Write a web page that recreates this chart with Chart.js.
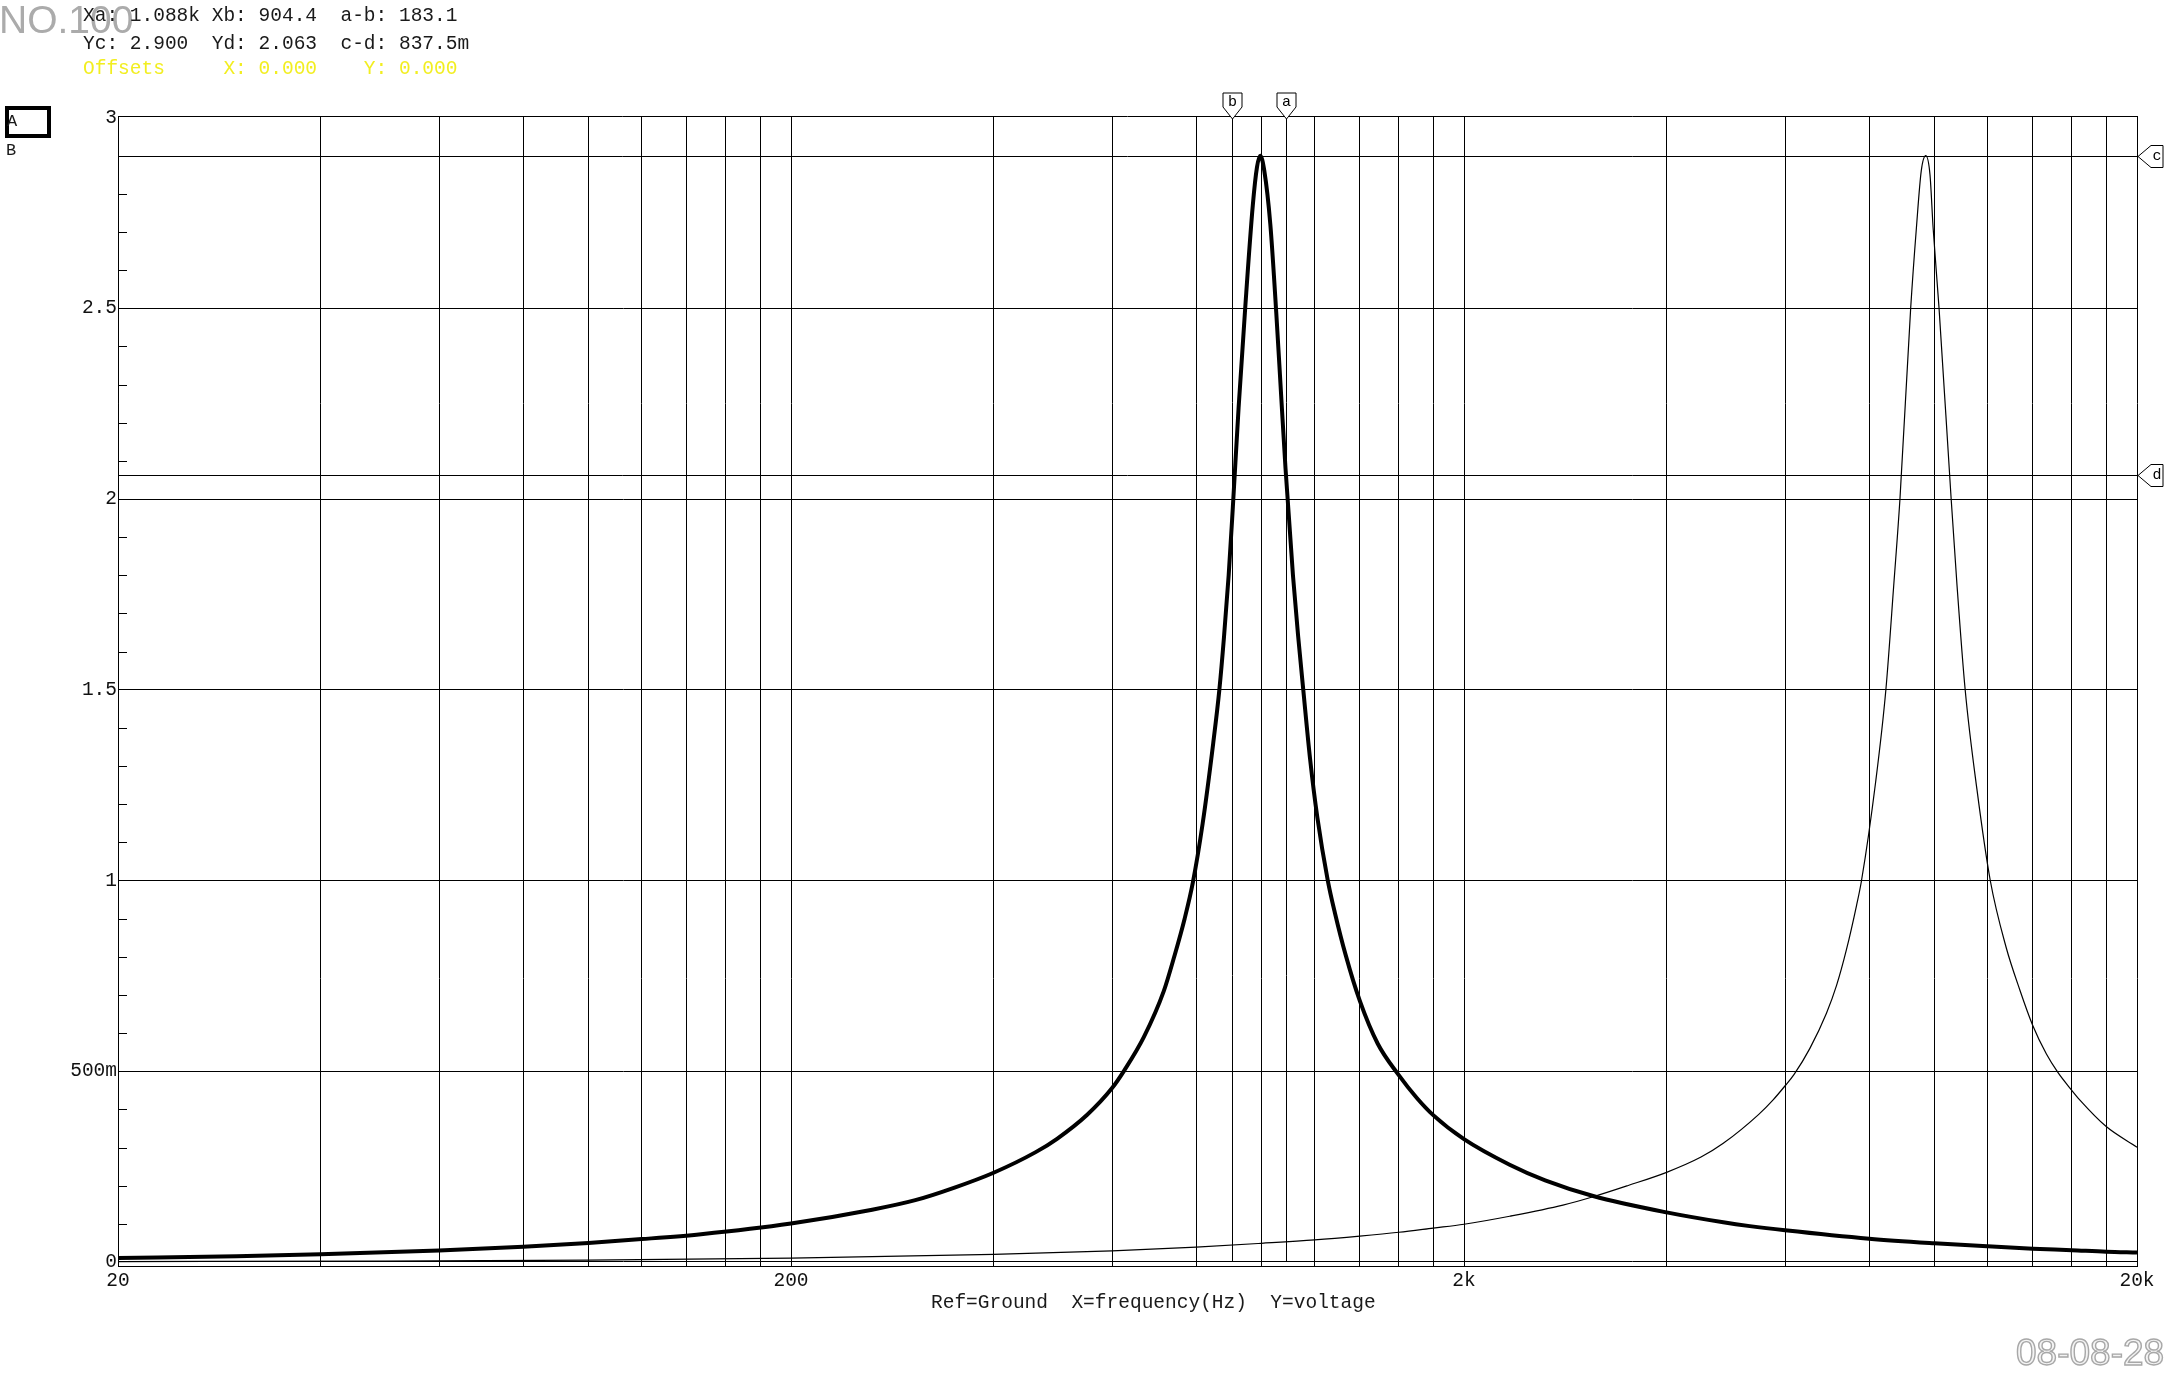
<!DOCTYPE html>
<html><head><meta charset="utf-8">
<script src="https://cdn.jsdelivr.net/npm/chart.js@4.4.1/dist/chart.umd.min.js"></script>
<style>
html,body{margin:0;padding:0;background:#fff;width:2165px;height:1375px;overflow:hidden;}
#wrap{position:absolute;left:0;top:0;width:2165px;height:1375px;}
.t{position:absolute;white-space:pre;font-family:'Liberation Mono','Courier New',monospace;font-size:19.5px;line-height:19.5px;color:#1a1a1a;}
.wm{position:absolute;white-space:pre;font-family:'Liberation Sans',Arial,sans-serif;line-height:1;}
</style></head><body>
<div id="wrap"><canvas id="c" width="2165" height="1375"></canvas></div>
<div class="wm" style="left:-1px;top:0px;font-size:39px;color:#ababab;">NO.100</div>
<div class="t" style="left:83px;top:6.5px">Xa: 1.088k Xb: 904.4  a-b: 183.1</div>
<div class="t" style="left:83px;top:34.5px">Yc: 2.900  Yd: 2.063  c-d: 837.5m</div>
<div class="t" style="left:83px;top:59.5px;color:#f2ee20">Offsets     X: 0.000    Y: 0.000</div>
<div style="position:absolute;left:5px;top:106px;width:46px;height:32px;border:4px solid #000;box-sizing:border-box;"></div>
<div class="t" style="left:7px;top:113px;font-size:17px;line-height:17px">A</div>
<div class="t" style="left:6px;top:142px;font-size:17px;line-height:17px">B</div>
<div class="t" style="left:931px;top:1293.5px">Ref=Ground  X=frequency(Hz)  Y=voltage</div>
<div class="wm" style="left:2016px;top:1334px;font-size:37px;color:#f4f4f4;-webkit-text-stroke:1.4px #a8a8a8;">08-08-28</div>
<script>
// ---- data ----
const freqA = [20,30,40,60,80,100,120,147,200,264,306,350,400,462,497,551,600,626,669,716,742,769,791,818,848,866,880,894,907,925,946,971,985,996,1010,1031,1052,1070,1086,1114,1134,1154,1181,1211,1255,1286,1334,1400,1489,1600,1702,1800,2000,2338,2640,3111,4000,4856,5317,6000,8000,10000,12000,14000,16000,18000,20000];
const voltA = [0.0105,0.015,0.020,0.030,0.040,0.050,0.060,0.073,0.101,0.137,0.162,0.195,0.234,0.288,0.323,0.386,0.456,0.503,0.590,0.710,0.800,0.900,0.995,1.150,1.360,1.500,1.640,1.800,1.980,2.240,2.500,2.770,2.870,2.900,2.860,2.720,2.490,2.270,2.080,1.800,1.640,1.500,1.320,1.165,1.000,0.915,0.805,0.685,0.572,0.490,0.430,0.385,0.322,0.255,0.214,0.173,0.130,0.104,0.094,0.083,0.061,0.049,0.041,0.035,0.031,0.027,0.025];
const freqB = [20,50,100,200,400,600,800,1000,1200,1400,1600,1800,2000,2338,2806,3111,3500,4000,4500,4856,5483,5759,6000,6188,6531,6912,7155,7404,7662,7793,8177,8470,8707,8888,9220,9403,9560,9708,9850,9956,10160,10590,10797,11110,11564,12106,12780,13395,14000,14670,15256,16000,16440,18000,20000];
const voltB = [0.001,0.0025,0.005,0.010,0.020,0.029,0.039,0.049,0.058,0.068,0.078,0.089,0.099,0.120,0.149,0.171,0.200,0.235,0.275,0.311,0.387,0.425,0.462,0.492,0.560,0.652,0.725,0.820,0.935,1.000,1.257,1.500,1.781,2.000,2.500,2.711,2.860,2.900,2.850,2.711,2.500,2.000,1.781,1.500,1.240,1.000,0.825,0.713,0.620,0.545,0.497,0.450,0.425,0.355,0.301];
const xGridValues = [20,40,60,80,100,120,140,160,180,200,400,600,800,1000,1200,1400,1600,1800,2000,4000,6000,8000,10000,12000,14000,16000,18000,20000];
const xLabelValues = [20,200,2000,20000];
const xLabelTexts = ['20','200','2k','20k'];
const yTickValues = [0,0.5,1,1.5,2,2.5,3];
const yTickLabels = ['0','500m','1','1.5','2','2.5','3'];
const yMinorTicks = [0.1,0.2,0.3,0.4,0.6,0.7,0.8,0.9,1.1,1.2,1.3,1.4,1.6,1.7,1.8,1.9,2.1,2.2,2.3,2.4,2.6,2.7,2.8,2.9];
const cursorXValues = [1088,904.4];
const cursorXNames = ['a','b'];
const cursorYValues = [2.9,2.063];
const cursorYNames = ['c','d'];

const toPts = (xs,ys)=>xs.map((x,i)=>({x:x,y:ys[i]}));
const MONO = "'Liberation Mono','Courier New',monospace";

const overlay = {
  id:'overlay',
  beforeDatasetsDraw(chart){
    const {ctx, chartArea:a, scales:{x,y}} = chart;
    ctx.save();
    ctx.strokeStyle='#000'; ctx.lineWidth=1;
    // top frame line
    const ty=Math.round(a.top)+0.5; ctx.beginPath(); ctx.moveTo(a.left,ty); ctx.lineTo(a.right,ty); ctx.stroke();
    yMinorTicks.forEach(v=>{const py=Math.round(y.getPixelForValue(v))+0.5; ctx.beginPath(); ctx.moveTo(a.left,py); ctx.lineTo(a.left+9,py); ctx.stroke();});
    const y0 = y.getPixelForValue(0);
    cursorXValues.forEach(v=>{const px=Math.round(x.getPixelForValue(v))+0.5; ctx.beginPath(); ctx.moveTo(px,a.top); ctx.lineTo(px,y0); ctx.stroke();});
    cursorYValues.forEach(v=>{const py=Math.round(y.getPixelForValue(v))+0.5; ctx.beginPath(); ctx.moveTo(a.left,py); ctx.lineTo(a.right,py); ctx.stroke();});
    ctx.restore();
  },
  afterDraw(chart){
    const {ctx, chartArea:a, scales:{x,y}} = chart;
    ctx.save();
    ctx.strokeStyle='#000'; ctx.lineWidth=1;
    ctx.font = "15px "+MONO; ctx.textAlign='center'; ctx.textBaseline='middle';
    cursorXValues.forEach((v,i)=>{
      const px=Math.round(x.getPixelForValue(v))+0.5, t=a.top;
      ctx.fillStyle='#fff';
      ctx.beginPath();
      ctx.moveTo(px-9.5,t-23); ctx.lineTo(px+9.5,t-23); ctx.lineTo(px+9.5,t-9);
      ctx.lineTo(px,t+3); ctx.lineTo(px-9.5,t-9); ctx.closePath();
      ctx.fill(); ctx.stroke();
      ctx.fillStyle='#000'; ctx.fillText(cursorXNames[i], px, t-14);
    });
    cursorYValues.forEach((v,i)=>{
      const py=Math.round(y.getPixelForValue(v))+0.5, r=a.right;
      ctx.fillStyle='#fff';
      ctx.beginPath();
      ctx.moveTo(r+1,py); ctx.lineTo(r+14,py-11); ctx.lineTo(r+26,py-11);
      ctx.lineTo(r+26,py+11); ctx.lineTo(r+14,py+11); ctx.closePath();
      ctx.fill(); ctx.stroke();
      ctx.fillStyle='#000'; ctx.fillText(cursorYNames[i], r+20, py);
    });
    ctx.restore();
  }
};

new Chart(document.getElementById('c'), {
  type:'line',
  data:{datasets:[
    {label:'A', data:toPts(freqA,voltA), borderColor:'#000', borderWidth:4, pointRadius:0, cubicInterpolationMode:'monotone', borderJoinStyle:'round', fill:false},
    {label:'B', data:toPts(freqB,voltB), borderColor:'#000', borderWidth:1.2, pointRadius:0, cubicInterpolationMode:'monotone', fill:false}
  ]},
  options:{
    responsive:false, animation:false, devicePixelRatio:1,
    layout:{padding:{left:0,top:116,right:28,bottom:0}},
    plugins:{legend:{display:false}, tooltip:{enabled:false}},
    scales:{
      x:{type:'logarithmic', min:20, max:20000,
        afterBuildTicks:s=>{s.ticks = xGridValues.map(v=>({value:v}));},
        afterFit:s=>{s.height = 109;},
        grid:{color:'#000', lineWidth:1, drawTicks:false},
        border:{color:'#000', width:1},
        ticks:{autoSkip:false, maxRotation:0, padding:3, color:'#111', font:{family:MONO, size:19.5},
          callback:(v)=>{const k=xLabelValues.indexOf(v); return k>=0 ? xLabelTexts[k] : '';}}
      },
      y:{type:'linear', min:-0.0105, max:3.004,
        afterBuildTicks:s=>{s.ticks = yTickValues.map(v=>({value:v}));},
        afterFit:s=>{s.width = 118;},
        grid:{color:(c)=> (c.tick && c.tick.value===3) ? 'rgba(0,0,0,0)' : '#000', lineWidth:1, drawTicks:false},
        border:{color:'#000', width:1},
        ticks:{autoSkip:false, padding:1, color:'#111', font:{family:MONO, size:19.5},
          callback:(v)=>{const k=yTickValues.indexOf(v); return k>=0 ? yTickLabels[k] : '';}}
      }
    }
  },
  plugins:[overlay]
});
</script>
</body></html>
